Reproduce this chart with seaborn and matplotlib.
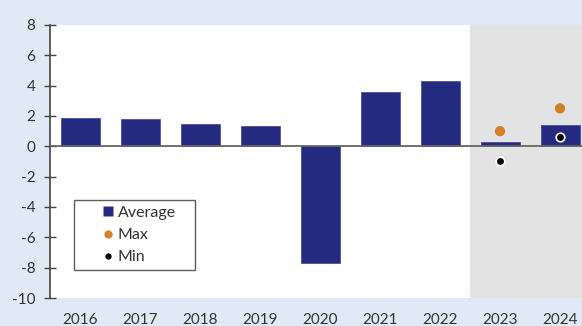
import matplotlib
matplotlib.use("Agg")
import matplotlib.pyplot as plt
from matplotlib.lines import Line2D
import seaborn as sns
import pandas as pd

years = ["2016", "2017", "2018", "2019", "2020", "2021", "2022", "2023", "2024"]
average = [1.9, 1.8, 1.5, 1.35, -7.7, 3.6, 4.3, 0.3, 1.4]
forecast_years = ["2023", "2024"]
maximum = [1.0, 2.5]
minimum = [-1.0, 0.6]
y_ticks = [-10, -8, -6, -4, -2, 0, 2, 4, 6, 8]

bar_color = "#232A80"
max_color = "#D4822A"
min_color = "#000000"
page_bg = "#E2E9F6"
shade_color = "#E3E3E3"
text_color = "#333333"

sns.set_theme(style="white")
plt.rcParams["font.family"] = ["Lato", "DejaVu Sans"]

df = pd.DataFrame({"year": years, "average": average})
df_range = pd.DataFrame({"year": forecast_years, "max": maximum, "min": minimum})

fig = plt.figure(figsize=(5.82, 3.26), dpi=100)
fig.patch.set_facecolor(page_bg)
ax = fig.add_axes([50 / 582, 28 / 326, 540 / 582, 273 / 326])
ax.set_facecolor("white")

# forecast period shading
ax.axvspan(6.5, 8.5, color=shade_color, zorder=0, lw=0)

sns.barplot(data=df, x="year", y="average", order=years, color=bar_color,
            width=0.65, saturation=1, ax=ax, zorder=2, edgecolor="#4a5096",
            linewidth=0.6)
ax.axhline(0, color="#666666", lw=1.3, zorder=3)

sns.scatterplot(data=df_range, x="year", y="max", color=max_color, s=55,
                edgecolor="none", ax=ax, zorder=4, legend=False)
sns.scatterplot(data=df_range, x="year", y="min", color=min_color, s=38,
                edgecolor="white", linewidth=1.2, ax=ax, zorder=4, legend=False)

ax.set_xlim(-0.5, 8.5)
ax.set_ylim(-10, 8)
ax.set_yticks(y_ticks)
ax.set_yticklabels([str(t) for t in y_ticks])
ax.set_xlabel("")
ax.set_ylabel("")

for side in ["top", "right", "bottom"]:
    ax.spines[side].set_visible(False)
ax.spines["left"].set_color("#444444")
ax.spines["left"].set_linewidth(1.2)

ax.tick_params(axis="y", direction="inout", length=9, width=1, color="#444444",
               labelsize=11, labelcolor=text_color, pad=6, left=True)
ax.tick_params(axis="x", length=0, labelsize=11, labelcolor=text_color, pad=11)

handles = [
    Line2D([], [], marker="s", linestyle="none", markersize=7,
           markerfacecolor=bar_color, markeredgecolor="none", label="Average"),
    Line2D([], [], marker="o", linestyle="none", markersize=6,
           markerfacecolor=max_color, markeredgecolor="none", label="Max"),
    Line2D([], [], marker="o", linestyle="none", markersize=4.5,
           markerfacecolor=min_color, markeredgecolor="none", label="Min"),
]
leg = ax.legend(handles=handles, loc="lower left",
                bbox_to_anchor=(24 / 540, 28 / 273, 121 / 540, 70 / 273),
                mode="expand", frameon=True, fancybox=False, fontsize=11.5,
                handlelength=3.6, handletextpad=-1.2, labelspacing=0.5,
                borderpad=0.35, borderaxespad=0)
leg.get_frame().set_edgecolor("#333333")
leg.get_frame().set_linewidth(1)
for t in leg.get_texts():
    t.set_color(text_color)

fig.savefig("out.png", dpi=100, facecolor=page_bg)
